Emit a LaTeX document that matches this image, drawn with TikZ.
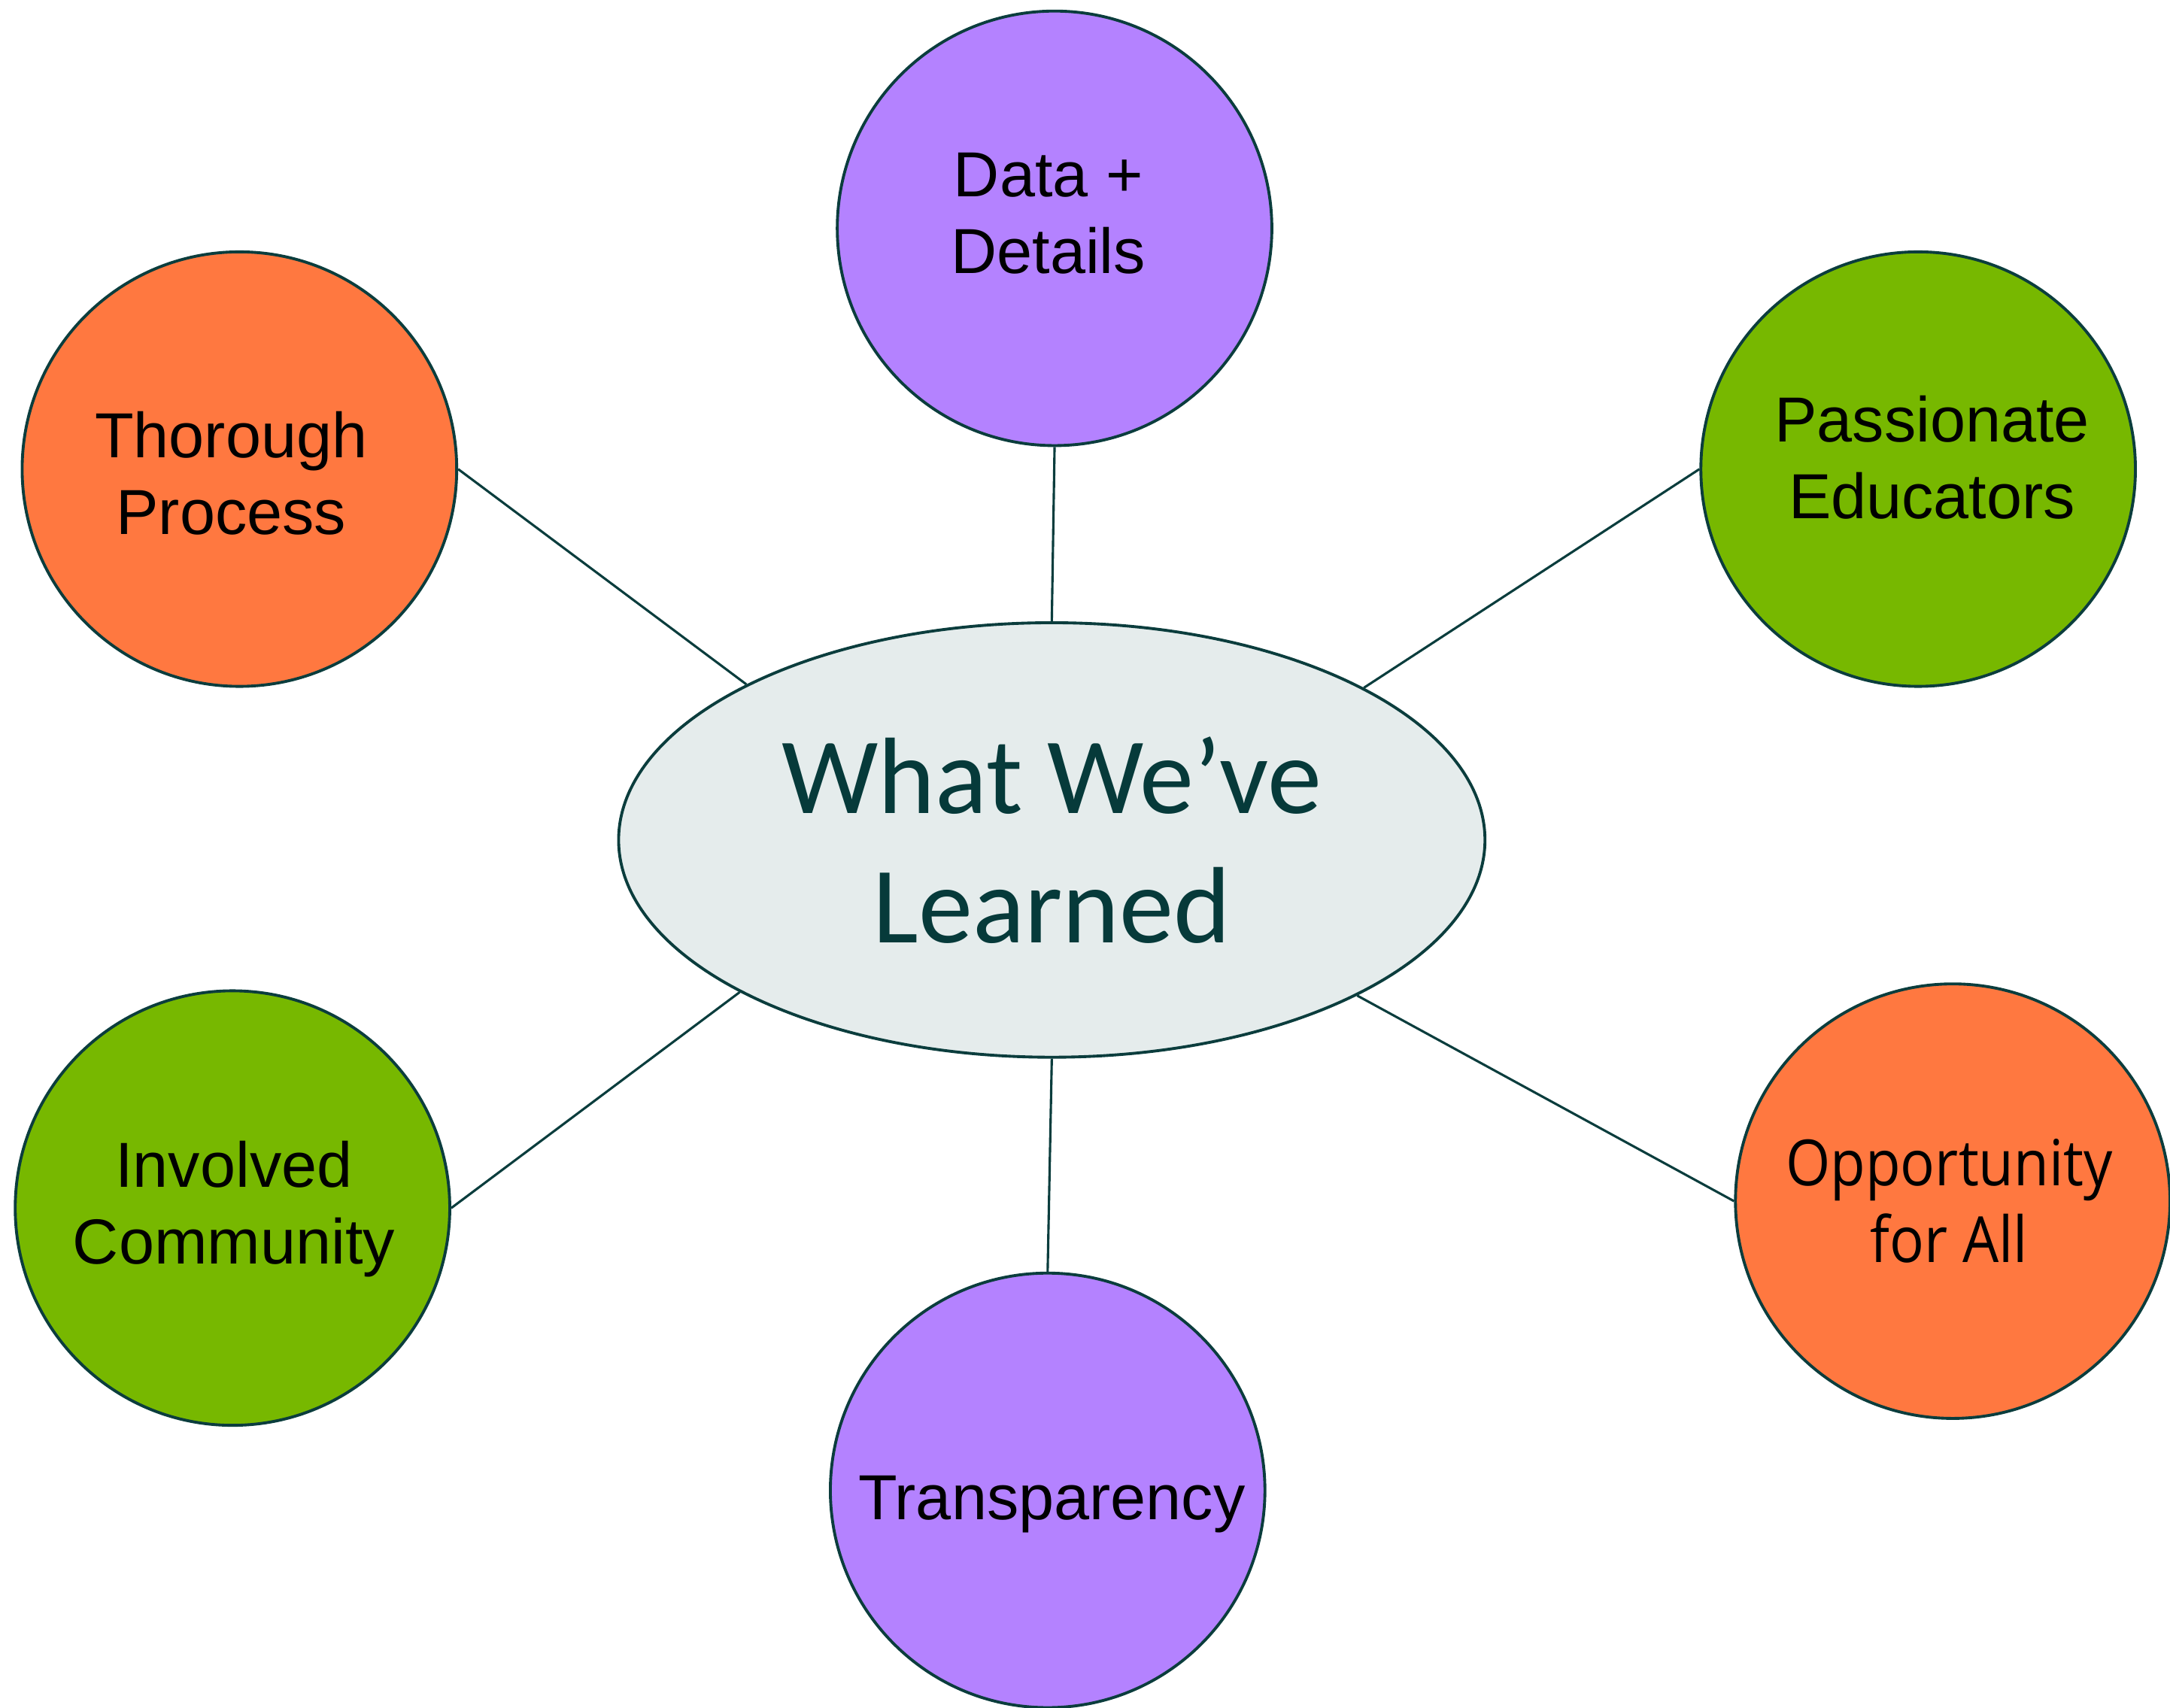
\documentclass[tikz,border=0pt]{standalone}
\usepackage{fontspec}
\setmainfont{Liberation Sans}
\newfontfamily\calib{Carlito}
\newfontfamily\oppfont[FakeStretch=0.9]{Open Sans}
\usetikzlibrary{shapes.geometric}
\definecolor{edgec}{HTML}{0B3D3D}
\definecolor{textc}{HTML}{063A3A}
\definecolor{orangec}{HTML}{FF7840}
\definecolor{purplec}{HTML}{B482FF}
\definecolor{greenc}{HTML}{77B800}
\definecolor{centerc}{HTML}{E5ECEC}
\begin{document}
\begin{tikzpicture}[x=1pt,y=-1pt,
  bubble/.style={circle,draw=edgec,line width=2.1pt,minimum size=314pt,inner sep=0pt},
  btext/.style={align=center,inner sep=0pt,font=\fontsize{46}{55.5}\selectfont,text=black},
  hub/.style={ellipse,draw=edgec,line width=2.1pt,fill=centerc,minimum width=626pt,minimum height=314pt,
    inner sep=0pt,align=center,font=\calib\fontsize{78.5}{93.3}\selectfont,text=textc},
  link/.style={draw=edgec,line width=1.7pt}]
\useasboundingbox (0,0) rectangle (1568,1234);
\node[hub] (c) at (760,607) {What We’ve\\Learned};
\node[bubble,fill=purplec] (d) at (762,165) {};
\node[bubble,fill=orangec] (t) at (173,339) {};
\node[bubble,fill=greenc] (p) at (1386,339) {};
\node[bubble,fill=greenc] (i) at (168,873) {};
\node[bubble,fill=purplec] (tr) at (757,1077) {};
\node[bubble,fill=orangec] (o) at (1411,868) {};
\node[btext] (dL) at ([shift={(-4.5,-10.7)}]d.center) {Data +\\Details};
\node[btext] (tL) at ([shift={(-6,2.9)}]t.center) {Thorough\\Process};
\node[btext] (pL) at ([shift={(10,-8.5)}]p.center) {Passionate\\Educators};
\node[btext] (iL) at ([shift={(1,0.9)}]i.center) {Involved\\Community};
\node[btext] (trL) at ([shift={(3,10)}]tr.center) {Transparency};
\node[btext,font=\oppfont\fontsize{46}{55.5}\selectfont] (oL) at ([shift={(-2.5,0.1)}]o.center) {Opportunity\\for All};
\draw[link] (d.south) -- (c.north);
\draw[link] (t.east) -- (c.153.2);
\draw[link] (p.west) -- (c.26.8);
\draw[link] (i.east) -- (c.206.8);
\draw[link] (tr.north) -- (c.south);
\draw[link] (o.west) -- (c.333.4);
\end{tikzpicture}
\end{document}
